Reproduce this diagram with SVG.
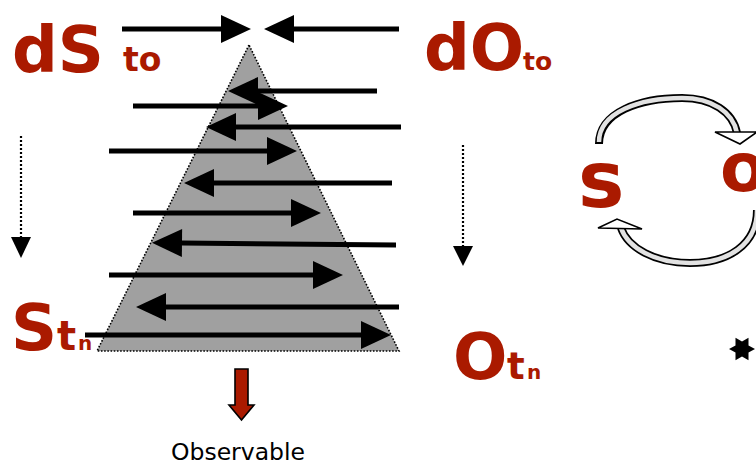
<svg xmlns="http://www.w3.org/2000/svg" width="756" height="464" viewBox="0 0 756 464">
<style>
.lbl{font-family:"DejaVu Sans","Verdana",sans-serif;font-weight:bold;fill:#AA1A00}
.arr{stroke:#000;stroke-width:5;fill:none;marker-end:url(#ah)}
.dot{stroke:#000;stroke-width:2.2;stroke-dasharray:2 2;fill:none}
.band-o{stroke:#000;stroke-width:8;fill:none}
.band-i{stroke:#e2e2e2;stroke-width:4.5;fill:none}
.hd{fill:#fff;stroke:#000;stroke-width:1.6;stroke-linejoin:miter}
</style>
<defs>
<marker id="ah" markerUnits="userSpaceOnUse" markerWidth="30" markerHeight="28" refX="0" refY="14" orient="auto" viewBox="0 0 30 28" overflow="visible">
<path d="M0,0 L30,14 L0,28 z" fill="#000"/>
</marker>
</defs>
<rect width="756" height="464" fill="#fff"/>
<g id="triangle">
<polygon points="249,45 97,351 399,351" fill="#A0A0A0" stroke="#000" stroke-width="1.6" stroke-dasharray="1.6 1.6"/>
</g>
<g id="connectors">
<line class="arr" x1="122" y1="29" x2="221" y2="29"/>
<line class="arr" x1="399" y1="29" x2="294" y2="29"/>
<line class="arr" x1="377" y1="91" x2="258" y2="91"/>
<line class="arr" x1="133" y1="106" x2="258" y2="106"/>
<line class="arr" x1="401" y1="127" x2="236" y2="127"/>
<line class="arr" x1="109" y1="151" x2="267" y2="151"/>
<line class="arr" x1="392" y1="183" x2="214" y2="183"/>
<line class="arr" x1="133" y1="213" x2="291" y2="213"/>
<line class="arr" x1="396" y1="245" x2="182" y2="243"/>
<line class="arr" x1="109" y1="275" x2="313" y2="275"/>
<line class="arr" x1="399" y1="307" x2="166" y2="307"/>
<line class="arr" x1="85" y1="335" x2="361" y2="335"/>
<line class="dot" x1="21" y1="136" x2="21" y2="238"/>
<polygon points="11,237 31,237 21,258" fill="#000"/>
<line class="dot" x1="463" y1="145" x2="463" y2="247"/>
<polygon points="453,246 473,246 463,266" fill="#000"/>
<path class="band-o" d="M599,144 C599,112 640,98 682,98 C712,98 733,112 737,133"/>
<path class="band-i" d="M599,142 C599,112 640,98 682,98 C712,98 733,112 737,133"/>
<polygon class="hd" points="715,132 757,132 740,144"/>
<path class="band-o" d="M757,210 C757,245 728,263 690,263 C655,263 628,248 621,228"/>
<path class="band-i" d="M757,210 C757,245 728,263 690,263 C655,263 628,248 621,228"/>
<polygon class="hd" points="598,228 617,219 642,229"/>
</g>
<g id="dS">
<text class="lbl" x="12" y="72" font-size="64">dS</text>
<text class="lbl" x="123" y="71" font-size="33">to</text>
</g>
<g id="dO">
<text class="lbl" x="424" y="70" font-size="64">dO</text>
<text class="lbl" x="523" y="70" font-size="25">to</text>
</g>
<g id="Stn">
<text class="lbl" x="11" y="350" font-size="64">S</text>
<text class="lbl" x="57" y="350" font-size="40">t</text>
<text class="lbl" x="78" y="350" font-size="20">n</text>
</g>
<g id="Otn">
<text class="lbl" x="453" y="379" font-size="64">O</text>
<text class="lbl" x="507" y="379" font-size="37">t</text>
<text class="lbl" x="527" y="379" font-size="20">n</text>
</g>
<g id="s">
<text class="lbl" x="578" y="207" font-size="78">s</text>
</g>
<g id="o">
<text class="lbl" x="720" y="191" font-size="68">o</text>
</g>
<g id="observable">
<polygon points="235,369 248,369 248,405 254,405 241.5,420 229,405 235,405" fill="#AA1A00" stroke="#000" stroke-width="1.6"/>
<text x="238" y="460" font-family="DejaVu Sans, Verdana, sans-serif" font-size="23.5" text-anchor="middle" fill="#000">Observable</text>
</g>
<g id="star">
<polygon points="755,349 748.5,352.5 748.5,360.3 742,356.5 735.5,360.3 735.5,352.5 729,349 735.5,345.5 735.5,337.7 742,341.5 748.5,337.7 748.5,345.5" fill="#000"/>
</g>
</svg>
